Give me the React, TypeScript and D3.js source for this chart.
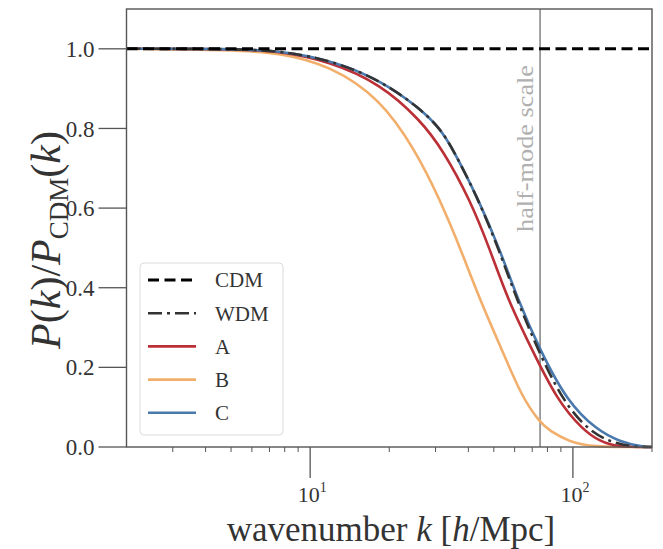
import React from "react";
import * as d3 from "d3";

// ---- data ----
const kC = [2, 5, 7.7, 11.9, 18.5, 26.2, 31.2, 34.7, 43.5, 52.8, 61.8, 74.9, 94.9, 123, 151, 185, 200];
const vC = [1, 1, 0.995, 0.972, 0.922, 0.85, 0.8, 0.752, 0.625, 0.495, 0.369, 0.244, 0.115, 0.043, 0.013, 0, 0];

const kA = [2, 5, 7.7, 11.9, 18.5, 26.2, 32.0, 40.6, 48.4, 56.6, 69.9, 87.0, 109, 127, 147, 200];
const vA = [1, 1, 0.994, 0.968, 0.912, 0.822, 0.746, 0.621, 0.495, 0.369, 0.244, 0.118, 0.043, 0.014, 0, 0];

const kB = [2, 5, 7.7, 11.9, 18.5, 25.1, 31.2, 37.5, 44.3, 53.7, 64.0, 74.9, 81.7, 97.4, 116, 200];
const vB = [1, 0.997, 0.99, 0.958, 0.875, 0.746, 0.621, 0.495, 0.369, 0.244, 0.125, 0.062, 0.04, 0.013, 0, 0];

const kW = [2, 5, 7.7, 11.9, 18.5, 26.2, 31.2, 34.7, 43.5, 52.3, 61.3, 73.6, 91.6, 114, 138, 168, 200];
const vW = [1, 1, 0.995, 0.972, 0.922, 0.85, 0.8, 0.752, 0.625, 0.495, 0.369, 0.244, 0.115, 0.043, 0.013, 0, 0];

const kCDM = [2, 200];
const vCDM = [1, 1];

const halfModeK = 75;
const yTicks = [0, 0.2, 0.4, 0.6, 0.8, 1.0];
const xMajor = [10, 100];
const xMajorExp = ["1", "2"];
const xMinor = [3, 4, 5, 6, 7, 8, 9, 20, 30, 40, 50, 60, 70, 80, 90, 200];
const legendLabels = ["CDM", "WDM", "A", "B", "C"];

const W = 663, H = 549;
const L = 126.5, R = 652, T = 9, B = 447;
const FONT = "'Liberation Serif', 'Times New Roman', serif";

export default function App() {
  const x = d3.scaleLog().domain([2, 200]).range([L, R]);
  const y = d3.scaleLinear().domain([0, 1.1]).range([B, T]);
  const line = (ks: number[], vs: number[]) =>
    d3.line<number>()
      .x((_, i) => x(ks[i]))
      .y((v) => y(v))
      .curve(d3.curveBasis)(vs) || "";

  const series = [
    { name: "CDM", d: line(kCDM, vCDM), color: "#000", dash: "11,5.5", w: 3 },
    { name: "WDM", d: line(kW, vW), color: "#333", dash: "14,5,3,5", w: 2.6 },
    { name: "A", d: line(kA, vA), color: "#bb3036", dash: "", w: 2.6 },
    { name: "B", d: line(kB, vB), color: "#f2ae6b", dash: "", w: 2.6 },
    { name: "C", d: line(kC, vC), color: "#4a79ad", dash: "", w: 2.6 },
  ];
  const drawOrder = ["B", "A", "C", "WDM", "CDM"];

  const hx = x(halfModeK);

  return (
    <svg width={W} height={H} style={{ position: "absolute", left: 0, top: 0, background: "#fff" }} fontFamily={FONT}>
      <rect x={0} y={0} width={W} height={H} fill="#fff" />
      {/* half-mode line */}
      <line x1={hx} x2={hx} y1={T} y2={B} stroke="#8a8a8a" strokeWidth={1.6} />
      <text
        transform={`translate(${hx - 7},${65}) rotate(-90)`}
        textAnchor="end"
        fontSize={23}
        fill="#b0b0b0"
        textLength={167}
        lengthAdjust="spacingAndGlyphs"
      >
        half-mode scale
      </text>
      {/* curves */}
      {drawOrder.map((n) => {
        const s = series.find((q) => q.name === n)!;
        return (
          <path key={n} d={s.d} fill="none" stroke={s.color} strokeWidth={s.w} strokeDasharray={s.dash || undefined} />
        );
      })}
      {/* frame */}
      <rect x={L} y={T} width={R - L} height={B - T} fill="none" stroke="#555" strokeWidth={1.4} />
      {/* y axis */}
      {yTicks.map((t) => (
        <g key={t}>
          <line x1={L - 28} x2={L} y1={y(t)} y2={y(t)} stroke="#555" strokeWidth={1.3} />
          <text x={L - 32} y={y(t)} dy="0.35em" textAnchor="end" fontSize={23} fill="#333">
            {t.toFixed(1)}
          </text>
        </g>
      ))}
      {/* x axis */}
      {xMinor.map((t) => (
        <line key={t} x1={x(t)} x2={x(t)} y1={B} y2={B + 5} stroke="#555" strokeWidth={1} />
      ))}
      {xMajor.map((t, i) => (
        <g key={t}>
          <line x1={x(t)} x2={x(t)} y1={B} y2={B + 31} stroke="#555" strokeWidth={1.3} />
          <text x={x(t) + 2} y={502} textAnchor="middle" fontSize={22} fill="#333">
            10
            <tspan fontSize={14} dy={-10}>{xMajorExp[i]}</tspan>
          </text>
        </g>
      ))}
      {/* axis labels */}
      <text x={391} y={541} textAnchor="middle" fontSize={35} fill="#333">
        wavenumber <tspan fontStyle="italic">k</tspan> [<tspan fontStyle="italic">h</tspan>/Mpc]
      </text>
      <text transform={`translate(60,${240}) rotate(-90)`} textAnchor="middle" fontSize={42} fill="#333">
        <tspan fontStyle="italic">P</tspan>(<tspan fontStyle="italic">k</tspan>)/<tspan fontStyle="italic">P</tspan>
        <tspan fontSize={27} dy={8}>CDM</tspan>
        <tspan dy={-8}>(</tspan><tspan fontStyle="italic">k</tspan>)
      </text>
      {/* legend */}
      <rect x={140} y={263} width={143} height={172} rx={4} fill="#fff" fillOpacity={0.85} stroke="#dcdcdc" strokeWidth={1} />
      {legendLabels.map((n, i) => {
        const s = series.find((q) => q.name === n)!;
        const ly = 280 + i * 33.2;
        return (
          <g key={n}>
            <line x1={148} x2={196} y1={ly} y2={ly} stroke={s.color} strokeWidth={s.w} strokeDasharray={s.dash || undefined} />
            <text x={215} y={ly} dy="0.35em" fontSize={21} fill="#333">{n}</text>
          </g>
        );
      })}
    </svg>
  );
}
